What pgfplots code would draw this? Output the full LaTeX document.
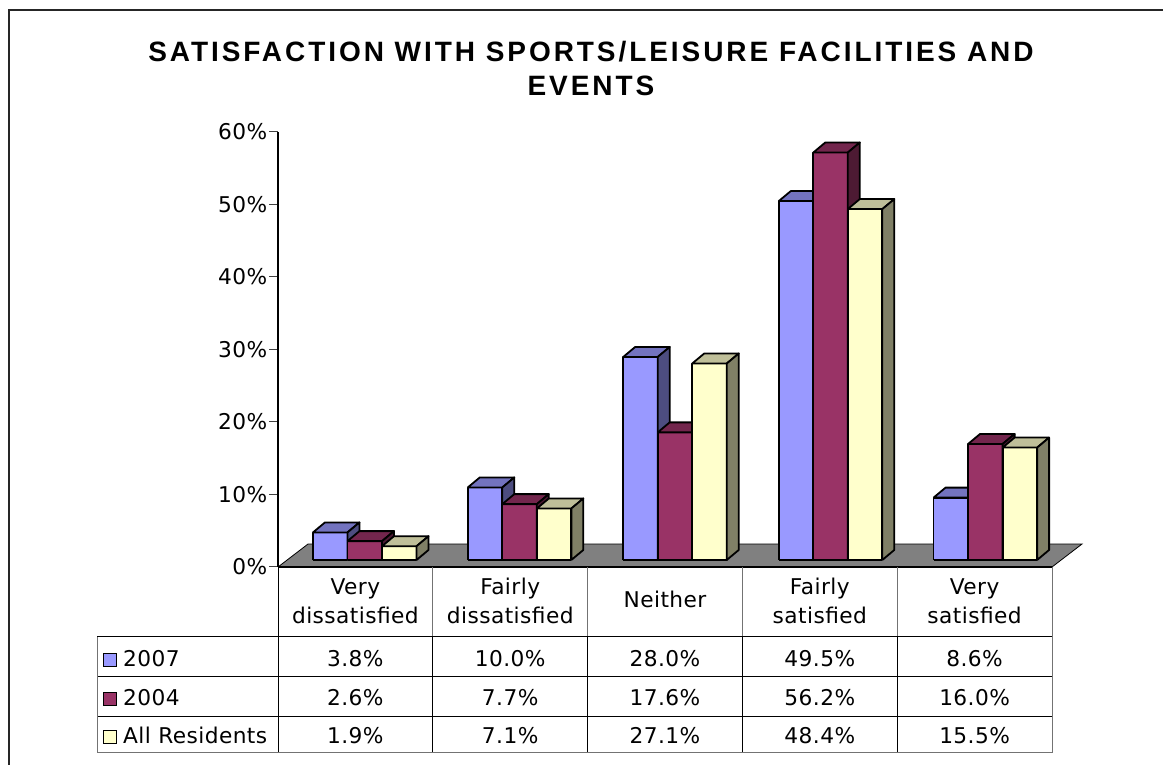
\documentclass[border=0pt]{standalone}
\usepackage{pgfplots}
\pgfplotsset{compat=1.18}
\usepackage{fontspec}
\setmainfont{DejaVu Sans}[LetterSpace=2]
\newfontfamily\titlefont{Liberation Sans}[LetterSpace=10.5]
\definecolor{c07}{HTML}{9999FF}\definecolor{c07t}{HTML}{7373BF}\definecolor{c07s}{HTML}{4D4D80}
\definecolor{c04}{HTML}{993366}\definecolor{c04t}{HTML}{73264D}\definecolor{c04s}{HTML}{4D1A33}
\definecolor{cAR}{HTML}{FFFFCC}\definecolor{cARt}{HTML}{BFBF99}\definecolor{cARs}{HTML}{808066}
\newcommand\bodyfont{\fontsize{21.7}{25}\selectfont}
% 3-D bar: #1 left x (category units), #2 value (%), #3 front, #4 top, #5 side colour
\newcommand\tdbar[5]{%
  \pgfmathsetmacro\xa{#1}\pgfmathsetmacro\xb{#1+0.223}%
  \pgfmathsetmacro\xc{#1+0.223+0.0775}\pgfmathsetmacro\xd{#1+0.0775}%
  \pgfmathsetmacro\ya{0.97}\pgfmathsetmacro\yb{0.97+#2}%
  \pgfmathsetmacro\yc{0.97+#2+1.38}\pgfmathsetmacro\yd{0.97+1.38}%
  \edef\tmp{%
    \noexpand\addplot[fill=#3,draw=black,line width=1.8pt,line join=round] coordinates {(\xa,\ya) (\xb,\ya) (\xb,\yb) (\xa,\yb) (\xa,\ya)};
    \noexpand\addplot[fill=#4,draw=black,line width=1.8pt,line join=round] coordinates {(\xa,\yb) (\xb,\yb) (\xc,\yc) (\xd,\yc) (\xa,\yb)};
    \noexpand\addplot[fill=#5,draw=black,line width=1.8pt,line join=round] coordinates {(\xb,\ya) (\xc,\yd) (\xc,\yc) (\xb,\yb) (\xb,\ya)};
  }\tmp}
\begin{document}
\begin{tikzpicture}[x=1pt,y=1pt]
\path[use as bounding box, clip] (0,0) rectangle (1163,765);
\fill[white] (0,0) rectangle (1163,765);
% frame
\draw[black!85, line width=1.3pt] (9,755) rectangle (1200,-30);
% title
\node[anchor=base, inner sep=0, font=\titlefont\bfseries\fontsize{28}{30}\selectfont] at (591,703) {SATISFACTION WITH SPORTS/LEISURE FACILITIES AND};
\node[anchor=base, inner sep=0, font=\titlefont\bfseries\fontsize{28}{30}\selectfont] at (591,669) {EVENTS};
\begin{axis}[
  at={(278pt,198pt)}, anchor=south west,
  x=154.8pt, y=7.25pt,
  xmin=0, xmax=5, ymin=0, ymax=60,
  clip=false,
  axis x line=none,
  axis y line*=left,
  y axis line style={black, line width=1.3pt},
  xtick=\empty,
  ytick={0,10,20,30,40,50,60},
  tick align=outside,
  major tick length=9pt,
  ytick style={black!75, line width=1pt},
  yticklabel={\pgfmathprintnumber{\tick}\%},
  /pgf/number format/assume math mode=true,
  yticklabel style={font=\bodyfont, inner sep=1.5pt},
]
% floor
\addplot[fill=black!50, draw=black, line width=0.8pt] coordinates {(0,0) (5,0) (5.194,3.17) (0.194,3.17) (0,0)};
\addplot[black, line width=2.6pt] coordinates {(0,0) (5,0)};
% Very dissatisfied
\tdbar{0.226}{3.8}{c07}{c07t}{c07s}
\tdbar{0.449}{2.6}{c04}{c04t}{c04s}
\tdbar{0.672}{1.9}{cAR}{cARt}{cARs}
% Fairly dissatisfied
\tdbar{1.226}{10.0}{c07}{c07t}{c07s}
\tdbar{1.449}{7.7}{c04}{c04t}{c04s}
\tdbar{1.672}{7.1}{cAR}{cARt}{cARs}
% Neither
\tdbar{2.230}{28.0}{c07}{c07t}{c07s}
\tdbar{2.453}{17.6}{c04}{c04t}{c04s}
\tdbar{2.676}{27.1}{cAR}{cARt}{cARs}
% Fairly satisfied
\tdbar{3.235}{49.5}{c07}{c07t}{c07s}
\tdbar{3.458}{56.2}{c04}{c04t}{c04s}
\tdbar{3.681}{48.4}{cAR}{cARt}{cARs}
% Very satisfied
\tdbar{4.235}{8.6}{c07}{c07t}{c07s}
\tdbar{4.458}{16.0}{c04}{c04t}{c04s}
\tdbar{4.681}{15.5}{cAR}{cARt}{cARs}
\end{axis}
% data table
\begin{scope}[line width=1pt]
\foreach \cx in {432.8,587.6,742.4,897.2} \draw[black!55] (\cx,198) -- (\cx,128);
\draw[black!55] (1052,198) -- (1052,12);
\draw[black] (278,198) -- (278,12);
\foreach \cx in {432.8,587.6,742.4,897.2} \draw[black] (\cx,128) -- (\cx,12);
\draw[black] (97,128) -- (1052,128);
\draw[black] (97,88) -- (1052,88);
\draw[black] (97,48) -- (1052,48);
\draw[black!55] (97,12) -- (1052,12);
\draw[black!55] (97,128) -- (97,12);
\end{scope}
\begin{scope}[every node/.style={anchor=base, inner sep=0, font=\bodyfont}]
\node at (355.4,170) {Very}; \node at (355.4,141) {dissatisfied};
\node at (510.2,170) {Fairly}; \node at (510.2,141) {dissatisfied};
\node at (665.0,157) {Neither};
\node at (819.8,170) {Fairly}; \node at (819.8,141) {satisfied};
\node at (974.6,170) {Very}; \node at (974.6,141) {satisfied};
% row 2007
\node at (355.4,98) {3.8\%}; \node at (510.2,98) {10.0\%}; \node at (665.0,98) {28.0\%}; \node at (819.8,98) {49.5\%}; \node at (974.6,98) {8.6\%};
% row 2004
\node at (355.4,59) {2.6\%}; \node at (510.2,59) {7.7\%}; \node at (665.0,59) {17.6\%}; \node at (819.8,59) {56.2\%}; \node at (974.6,59) {16.0\%};
% row All Residents
\node at (355.4,21) {1.9\%}; \node at (510.2,21) {7.1\%}; \node at (665.0,21) {27.1\%}; \node at (819.8,21) {48.4\%}; \node at (974.6,21) {15.5\%};
\node[anchor=base west] at (123,98) {2007};
\node[anchor=base west] at (123,59) {2004};
\node[anchor=base west] at (123,21) {All Residents};
\end{scope}
\draw[fill=c07, draw=black, line width=1pt] (103.5,98.5) rectangle (116,111);
\draw[fill=c04, draw=black, line width=1pt] (103.5,59.5) rectangle (116,72);
\draw[fill=cAR, draw=black, line width=1pt] (103.5,21.5) rectangle (116,34);
\end{tikzpicture}
\end{document}
